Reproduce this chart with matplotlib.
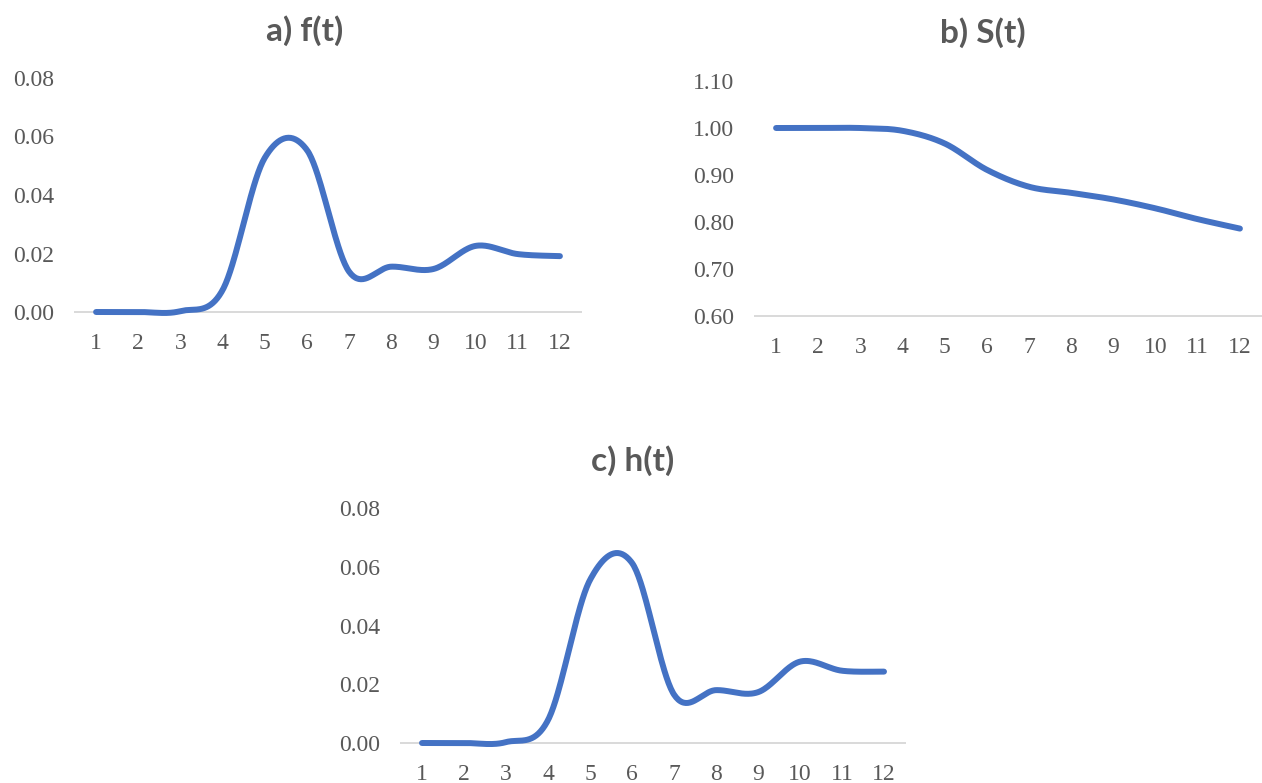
import numpy as np
import matplotlib
matplotlib.use("Agg")
import matplotlib.pyplot as plt

# ---- data ----
t = [1, 2, 3, 4, 5, 6, 7, 8, 9, 10, 11, 12]
f_t = [0.0000, 0.0000, 0.0003, 0.0075, 0.0527, 0.0554, 0.0138, 0.0155, 0.0147, 0.0226, 0.0198, 0.0191]
S_t = [1.000, 1.000, 1.000, 0.994, 0.967, 0.911, 0.875, 0.862, 0.848, 0.829, 0.806, 0.786]
h_t = [0.0000, 0.0000, 0.0003, 0.0078, 0.0555, 0.0613, 0.0165, 0.0180, 0.0173, 0.0277, 0.0246, 0.0243]
titles = ["a) f(t)", "b) S(t)", "c) h(t)"]
yticks_f = [0.00, 0.02, 0.04, 0.06, 0.08]
yticks_S = [0.60, 0.70, 0.80, 0.90, 1.00, 1.10]
yticks_h = [0.00, 0.02, 0.04, 0.06, 0.08]

LINE = "#4472C4"
TXT = "#595959"
AXC = "#D9D9D9"


def smooth(x, y, n=40):
    """Excel-like smoothed line (Catmull-Rom via cubic Bezier)."""
    P = np.column_stack([np.asarray(x, float), np.asarray(y, float)])
    Pp = np.vstack([P[0], P, P[-1]])
    out = []
    s = np.linspace(0, 1, n)[:, None]
    for i in range(len(P) - 1):
        p0 = Pp[i + 1]
        p3 = Pp[i + 2]
        c1 = p0 + (Pp[i + 2] - Pp[i]) / 6.0
        c2 = p3 - (Pp[i + 3] - Pp[i + 1]) / 6.0
        seg = ((1 - s) ** 3) * p0 + 3 * ((1 - s) ** 2) * s * c1 + 3 * (1 - s) * s ** 2 * c2 + s ** 3 * p3
        out.append(seg if i == 0 else seg[1:])
    out = np.vstack(out)
    return out[:, 0], out[:, 1]


W, H = 1262, 783
fig = plt.figure(figsize=(W / 100, H / 100), dpi=100)


def add_ax(l, r, b, top):
    return fig.add_axes([l / W, 1 - b / H, (r - l) / W, (b - top) / H])


specs = [
    (add_ax(75, 581, 312, 78), f_t, yticks_f, "{:.2f}", (305, 31)),
    (add_ax(755, 1261, 316, 81), S_t, yticks_S, "{:.2f}", (983, 33)),
    (add_ax(401, 905, 743, 508), h_t, yticks_h, "{:.2f}", (633, 461)),
]

for (ax, vals, yt, fmt, tpos), title in zip(specs, titles):
    xs, ys = smooth(t, vals)
    ax.plot(xs, ys, color=LINE, lw=4.3, solid_capstyle="round", solid_joinstyle="round", clip_on=False)
    ax.set_xlim(0.5, 12.5)
    ax.set_ylim(yt[0], yt[-1])
    ax.set_xticks(t)
    ax.set_xticklabels([str(v) for v in t])
    ax.set_yticks(yt)
    ax.set_yticklabels([fmt.format(v) for v in yt])
    for side in ["top", "right", "left"]:
        ax.spines[side].set_visible(False)
    ax.spines["bottom"].set_color(AXC)
    ax.spines["bottom"].set_linewidth(1.4)
    ax.spines["bottom"].set_zorder(0)
    ax.tick_params(axis="both", length=0, labelsize=17, labelcolor=TXT)
    ax.tick_params(axis="y", pad=15)
    ax.tick_params(axis="x", pad=15)
    for lab in ax.get_xticklabels() + ax.get_yticklabels():
        lab.set_fontfamily("Liberation Serif")
    ax.patch.set_alpha(0)
    fig.text(tpos[0] / W, 1 - tpos[1] / H, title, ha="center", va="center",
             fontsize=24, fontweight="bold", color=TXT, family="Lato")

fig.savefig("out.png", dpi=100, facecolor="white")
